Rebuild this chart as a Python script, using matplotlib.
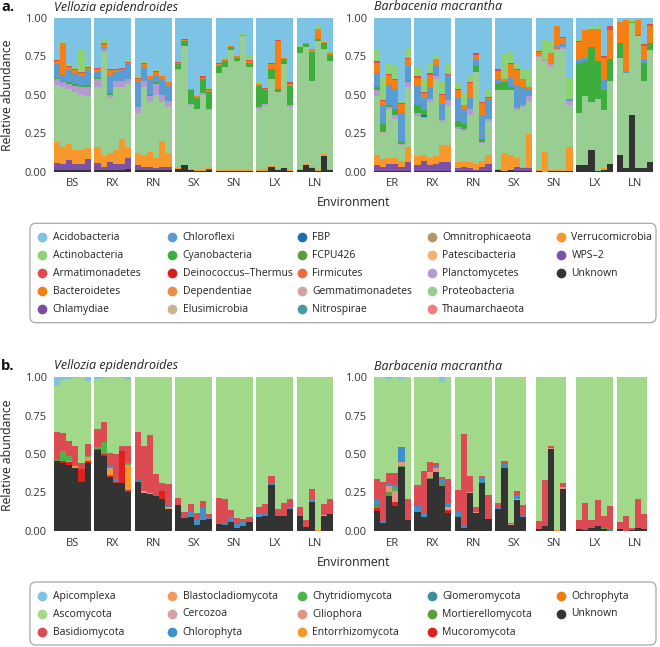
import numpy as np
import matplotlib.pyplot as plt
from matplotlib.patches import FancyBboxPatch

plt.rcParams['font.family'] = ['Open Sans', 'DejaVu Sans']

W, H = 660, 647

plants = ['Vellozia epidendroides', 'Barbacenia macrantha']
envs = [['BS', 'RX', 'RN', 'SX', 'SN', 'LX', 'LN'],
        ['ER', 'RX', 'RN', 'SX', 'SN', 'LX', 'LN']]

# ---------------- panel a : bacteria (6 samples per environment) ----------------
# order: Vellozia BS..LN, then Barbacenia ER..LN ; two environments per row
a_unknown = [.01, .01, .01, .01, .01, .01,   .01, .01, .01, .01, .01, .015,
             .01, .01, .01, .01, .01, .01,   .015, .04, .01, .005, .005, .01,
             .005, .005, .005, .005, .005, .005,   .005, .005, .03, .01, .02, .005,
             .01, .04, .025, .005, .10, .01,   .005, .005, .005, .005, .005, .005,
             .005, .005, .005, .005, .005, .005,   .005, .005, .005, .005, .005, .005,
             .01, .005, .01, .005, .005, .005,   .005, 0, .005, .005, .005, .005,
             .04, .04, .14, .005, .01, .05,   .11, .02, .37, .02, .02, .06]
a_wps2 = [.045, .04, .065, .04, .04, .07,   .045, .02, .05, .04, .04, .075,
          .03, .02, .02, .01, .02, .02,   0, 0, 0, 0, 0, .005,
          0, 0, 0, 0, 0, 0,   0, 0, 0, 0, 0, 0,
          0, 0, 0, 0, 0, 0,   .035, .025, .045, .045, .025, .055,
          .035, .065, .035, .045, .055, .055,   .015, .025, .015, .005, .025, .045,
          0, 0, 0, .025, .015, .015,   0, 0, 0, 0, 0, 0,
          0, 0, 0, 0, 0, 0,   0, 0, 0, 0, 0, 0]
a_verruco = [.135, .11, .105, .09, .09, .07,   .105, .07, .06, .09, .16, .06,
             .08, .08, .10, .07, .17, .09,   .005, .005, .005, .005, .005, .005,
             .005, .005, .005, .005, .005, .005,   .005, .01, .005, .005, .005, .005,
             .005, .01, .005, .005, .015, .005,   .07, .05, .04, .04, .04, .10,
             .06, .04, .05, .05, .11, .11,   .04, .03, .04, .04, .04, .06,
             .005, .115, .10, .06, .01, .225,   .005, .13, .005, .005, .005, .155,
             0, 0, 0, 0, .01, 0,   0, 0, 0, 0, 0, 0]
a_proteo = [.375, .39, .36, .38, .36, .34,   .39, .68, .36, .41, .34, .42,
            .26, .44, .32, .41, .25, .30,   .64, .775, .415, .40, .49, .38,
            .63, .67, .78, .71, .87, .67,   .40, .415, .565, .505, .675, .41,
            .755, .76, .56, .84, .685, .705,   .38, .17, .315, .255, .10, .39,
            .26, .24, .36, .50, .15, .26,   .22, .205, .31, .60, .115, .22,
            .515, .41, .42, .31, .39, .215,   .735, .59, .67, .78, .79, .27,
            .34, .45, .31, .465, .38, .54,   .63, .62, .595, .86, .57, .73]
a_plancto = [.035, .03, .03, .04, .05, .055,   .05, .02, .02, .04, .04, .03,
             .04, .04, .04, .07, .05, .04,   .01, 0, .01, 0, .01, .01,
             0, 0, 0, 0, 0, 0,   .01, .01, 0, 0, 0, .01,
             0, 0, 0, 0, 0, 0,   .04, 0, .015, .02, .01, .03,
             .02, .005, .02, .02, .015, .035,   .01, .01, .04, 0, .01, .015,
             0, 0, 0, .015, .01, .03,   .005, .01, .02, .005, .01, .03,
             0, 0, 0, 0, 0, 0,   0, 0, 0, 0, 0, 0]
a_gemmati = [0] * 43 + [.01] + [0] * 40
a_firmic = [0] * 69 + [.01] + [0] * 14
a_fcpu = [0] * 33 + [.02] + [0] * 5 + [.01] + [0] * 41 + [.01, 0, 0]
a_fbp = [0] * 49 + [.015] + [0] * 34
a_cyano = [.01, .01, .01, .01, .01, .01,   .01, 0, .01, 0, 0, 0,
           0, 0, .01, .01, 0, 0,   .03, .03, .09, .07, .09, .11,
           .05, .04, .02, .02, 0, .03,   .14, .09, .07, 0, .035, .13,
           .04, .02, .19, 0, .04, .04,   .02, .05, .01, .045, .01, .01,
           .05, .03, 0, 0, 0, 0,   .04, .035, 0, .04, .015, 0,
           .045, .05, .02, 0, 0, 0,   0, 0, 0, 0, 0, 0,
           .33, .23, .36, .25, .13, .145,   .10, 0, .01, 0, .12, .05]
a_chloro = [.09, .04, .08, .07, .06, .10,   .04, .01, .11, .06, .07, .10,
            .16, .09, .10, .05, .10, .10,   0, 0, 0, 0, 0, 0,
            0, 0, 0, 0, 0, 0,   0, 0, 0, 0, 0, 0,
            0, 0, 0, 0, 0, 0,   .09, .125, .135, .13, .19, .10,
            .13, .08, .08, .07, .105, .155,   .15, .10, .07, .04, .155, .125,
            .025, 0, .06, .15, .12, .045,   0, 0, 0, .01, .02, .015,
            .015, .02, 0, 0, .065, 0,   0, .015, 0, 0, .015, 0]
a_bactero = [.02, .205, .02, .02, .02, .015,   .02, .02, .04, .01, .01, .01,
             .02, .02, .02, .02, .02, .02,   .01, .005, .005, .01, .01, .01,
             .01, .01, .01, .01, .01, .01,   .01, .01, .03, .31, .005, .01,
             0, .005, .015, .07, .005, .01,   .07, .025, .065, .055, .06, .045,
             .05, .03, .08, .04, .06, .01,   .05, .02, .095, .03, .08, .01,
             .055, .02, .09, .095, .05, .015,   .03, 0, .07, .135, .04, 0,
             .12, .18, .12, .21, .145, .185,   .135, .335, 0, .10, .095, .11]
a_armatim = [.005, .005, .01, .005, .005, .005,   .005, .005, .005, .005, .005, .005,
             .01, .005, .005, .005, .005, .005,   .005, .005, .005, .005, .01, .01,
             .005, 0, 0, 0, 0, .005,   0, .005, .005, .005, 0, .01,
             0, 0, 0, 0, 0, .005,   .01, .005, .005, .005, .005, .005,
             .01, .005, .01, .005, .005, .005,   .005, .005, .005, .01, .005, .005,
             .01, .005, .005, .005, .005, 0,   .005, 0, .005, 0, .005, 0,
             .005, 0, 0, 0, .01, .025,   0, 0, 0, 0, .01, .01]
a_actino = [.01, .01, .01, .01, .145, .005,   .005, .02, .005, .005, .005, .015,
            .02, .015, .005, .015, .005, .005,   .005, .005, 0, 0, .01, .01,
            .005, .01, .005, .005, .01, .035,   .01, .005, .005, .005, .005, 0,
            .005, .005, .005, .02, .005, .005,   .08, .145, .075, .09, .005, .07,
            .06, .085, .06, .025, .075, .065,   .04, .075, .05, 0, 0, .045,
            .005, .17, .075, .045, .055, .115,   .005, .13, .075, .005, 0, .135,
            .005, .01, .01, .015, 0, .005,   .005, .005, .015, .005, 0, .005]
a_acido = [.265, .15, .30, .325, .21, .31,   .32, .145, .33, .33, .32, .27,
           .37, .28, .37, .33, .37, .41,   .28, .135, .46, .505, .37, .45,
           .29, .26, .175, .245, .10, .24,   .42, .45, .29, .14, .255, .42,
           .185, .16, .20, .05, .15, .22,   .20, .39, .29, .31, .55, .19,
           .32, .40, .30, .24, .42, .30,   .425, .49, .37, .23, .55, .47,
           .33, .225, .22, .29, .34, .335,   .21, .14, .15, .045, .125, .39,
           .145, .07, .06, .055, .25, .05,   .02, .005, .01, .005, .17, .035]

# ---------------- panel b : eukaryotes ----------------
b_unknown = [.455, .44, .43, .41, .32, .44,   .525, .49, .35, .31, .31, .255,
             .32, .25, .24, .225, .21, .145,   .17, .085, .09, .04, .07, .08,
             .045, .04, .06, .02, .03, .06,   .09, .10, .30, .10, .10, .14,
             .10, .025, .19, 0, .10, .11,   .13, .055, .23, .16, .415, .07,
             .125, .09, .335, .385, .295, .12,   .09, .02, .245, .115, .31, .075,
             .14, .41, .04, .20, .09, 0,   .01, .03, .535, 0, .275, 0,
             .015, .005, .02, .035, .01, .003,   .01, .003, .005, .02, .015, 0]
b_mucoro = [0, .015, .015, 0, .08, .015,   .01, .01, .01, .01, .21, .01,
            0, 0, 0, 0, .05, 0,   0, 0, 0, 0, 0, 0,
            0, 0, 0, 0, 0, 0,   0, 0, 0, 0, 0, 0,
            0, 0, 0, 0, 0, 0,   .02, 0, 0, .03, 0, 0,
            0, 0, 0, 0, 0, .015,   0, 0, 0, 0, 0, 0,
            0, 0, 0, 0, 0, 0,   0, 0, 0, 0, 0, 0,
            0, 0, 0, 0, 0, 0,   0, 0, 0, 0, 0, 0]
b_mortier = [.01, 0, 0, 0, 0, 0,   0, 0, 0, 0, 0, 0,
             0, 0, 0, 0, 0, 0,   0, 0, 0, 0, 0, 0,
             0, 0, 0, 0, 0, 0,   0, 0, 0, 0, 0, 0,
             0, 0, 0, 0, 0, 0,   .015, 0, .025, 0, .01, 0,
             0, 0, .01, 0, .01, 0,   0, 0, 0, 0, 0, 0,
             0, 0, 0, 0, 0, 0,   0, 0, 0, 0, 0, 0,
             0, 0, 0, 0, .01, 0,   0, 0, 0, 0, 0, 0]
b_glomero = [0, 0, 0, 0, 0, 0,   0, 0, .005, 0, 0, 0,
             .01, 0, 0, 0, 0, 0,   0, 0, 0, 0, 0, 0,
             0, 0, 0, 0, 0, 0,   0, 0, .01, 0, 0, 0,
             0, 0, 0, 0, 0, 0,   .01, 0, 0, 0, 0, 0,
             0, 0, 0, 0, 0, 0,   .01, 0, 0, 0, .01, 0,
             0, .01, 0, 0, 0, 0,   0, 0, 0, 0, 0, 0,
             0, 0, 0, 0, 0, .005,   0, 0, 0, 0, 0, 0]
b_entorr = [0, 0, .01, .015, 0, .015,   0, 0, .035, 0, 0, .165,
            0, 0, 0, 0, 0, .01,   0, 0, 0, 0, 0, 0,
            0, 0, 0, 0, 0, 0,   0, 0, 0, 0, 0, 0,
            0, 0, 0, .005, 0, 0,   0, 0, 0, 0, 0, 0,
            0, 0, 0, 0, 0, 0,   0, 0, 0, 0, 0, 0,
            0, 0, 0, 0, 0, 0,   0, 0, 0, .005, 0, 0,
            0, 0, 0, 0, 0, 0,   0, 0, 0, 0, 0, 0]
b_cilio = [0, 0, 0, 0, .005, .01,   0, 0, .01, 0, 0, 0,
           0, .01, .005, 0, 0, 0,   0, 0, 0, 0, 0, 0,
           0, 0, 0, 0, 0, 0,   0, 0, 0, 0, 0, 0,
           0, 0, 0, 0, .005, 0,   0, 0, .035, .07, .02, 0,
           0, 0, .035, .025, 0, .02,   0, 0, .01, .01, 0, 0,
           0, 0, .005, .01, 0, 0,   0, 0, .005, 0, .01, 0,
           0, 0, 0, 0, 0, 0,   0, 0, 0, 0, 0, 0]
b_chytrid = [0, .065, .035, 0, 0, .01,   .01, .08, 0, 0, 0, .01,
             0, 0, 0, 0, 0, 0,   0, 0, 0, 0, 0, 0,
             0, 0, 0, 0, 0, 0,   0, 0, 0, 0, 0, 0,
             0, 0, 0, 0, 0, 0,   0, 0, 0, .025, 0, 0,
             0, 0, 0, 0, 0, 0,   0, 0, 0, 0, 0, 0,
             0, 0, 0, 0, 0, 0,   0, 0, 0, 0, 0, 0,
             0, 0, 0, 0, 0, 0,   0, 0, 0, 0, 0, 0]
b_chloroph = [0, 0, 0, 0, 0, 0,   0, 0, .015, .015, 0, 0,
              0, 0, 0, 0, 0, .01,   0, 0, .04, .04, .085, .01,
              .01, .01, .03, .025, .03, 0,   .025, .01, 0, 0, 0, .015,
              0, 0, .02, 0, 0, 0,   .03, .01, .02, .015, .095, 0,
              .04, .03, 0, .01, .03, .025,   .03, .01, 0, 0, .025, 0,
              .01, .015, 0, .025, .01, 0,   0, 0, 0, 0, 0, 0,
              0, 0, 0, 0, 0, 0,   0, 0, 0, 0, 0, 0]
b_basidio = [.18, .115, .095, .125, .035, .075,   .12, .125, .08, .165, .035, .11,
             .31, .295, .38, .145, .05, .14,   .045, .04, .045, .04, .04, .02,
             .16, .16, .045, .04, .02, .03,   .04, .065, .045, .045, .085, .05,
             .055, .045, .065, 0, .07, .095,   .135, .25, .065, .075, .005, .135,
             .135, .27, .065, .02, .015, .155,   .135, .60, .10, .03, .01, .16,
             .035, .02, .01, .025, .07, 0,   .055, .30, .01, 0, .025, 0,
             .055, .175, .05, .165, .08, .152,   .05, .097, .015, .19, .095, 0]
b_ascomy = [.295, .345, .405, .445, .56, .41,   .325, .29, .495, .50, .44, .43,
            .36, .445, .375, .63, .69, .695,   .785, .875, .825, .88, .805, .89,
            .785, .79, .865, .915, .92, .91,   .845, .825, .645, .855, .815, .795,
            .845, .93, .725, .995, .825, .795,   .66, .685, .615, .625, .44, .795,
            .70, .61, .555, .56, .62, .665,   .735, .37, .645, .845, .645, .765,
            .815, .545, .945, .74, .83, 0,   .935, .67, .45, .995, .69, 0,
            .93, .82, .93, .80, .90, .84,   .94, .90, .98, .79, .89, 0]
b_apicom = [.06, .02, .01, .005, 0, .025,   .01, .005, 0, 0, .005, .02,
            0, 0, 0, 0, 0, 0,   0, 0, 0, 0, 0, 0,
            0, 0, 0, 0, 0, 0,   0, 0, 0, 0, 0, 0,
            0, 0, 0, 0, 0, 0,   0, 0, .01, 0, .015, 0,
            0, 0, 0, 0, .03, 0,   0, 0, 0, 0, 0, 0,
            0, 0, 0, 0, 0, 0,   0, 0, 0, 0, 0, 0,
            0, 0, 0, 0, 0, 0,   0, 0, 0, 0, 0, 0]

bact_names = ['Acidobacteria', 'Actinobacteria', 'Armatimonadetes', 'Bacteroidetes',
              'Chlamydiae', 'Chloroflexi', 'Cyanobacteria', 'Deinococcus\u2013Thermus',
              'Dependentiae', 'Elusimicrobia', 'FBP', 'FCPU426', 'Firmicutes',
              'Gemmatimonadetes', 'Nitrospirae', 'Omnitrophicaeota', 'Patescibacteria',
              'Planctomycetes', 'Proteobacteria', 'Thaumarchaeota', 'Verrucomicrobia',
              'WPS\u20132', 'Unknown']
bact_colors = ['#7DC3E3', '#8ED276', '#E6464D', '#F57F12', '#7A4E9C', '#5B9BD3',
               '#3DAE3E', '#D81B1B', '#EC8A3F', '#C9B591', '#1E6DB3', '#5A9D3B',
               '#ED6A3B', '#D7A0A9', '#4A9AA6', '#B69567', '#FBB16C', '#B49AD0',
               '#98CE91', '#F47C7F', '#F8982B', '#7C52A8', '#333333']
fung_names = ['Apicomplexa', 'Ascomycota', 'Basidiomycota', 'Blastocladiomycota',
              'Cercozoa', 'Chlorophyta', 'Chytridiomycota', 'Ciliophora',
              'Entorrhizomycota', 'Glomeromycota', 'Mortierellomycota', 'Mucoromycota',
              'Ochrophyta', 'Unknown']
fung_colors = ['#7DC3E3', '#A2D88A', '#DC4A52', '#F29A5F', '#D5A0A6', '#3F8FCB',
               '#4DB34B', '#E49283', '#F7962B', '#3E8DA0', '#5A9D3B', '#E0201C',
               '#F27B0C', '#333333']

# stacking bottom -> top
a_layers = [('Unknown', a_unknown), ('WPS\u20132', a_wps2), ('Verrucomicrobia', a_verruco),
            ('Proteobacteria', a_proteo), ('Planctomycetes', a_plancto),
            ('Gemmatimonadetes', a_gemmati), ('Firmicutes', a_firmic),
            ('FCPU426', a_fcpu), ('FBP', a_fbp), ('Cyanobacteria', a_cyano),
            ('Chloroflexi', a_chloro), ('Bacteroidetes', a_bactero),
            ('Armatimonadetes', a_armatim), ('Actinobacteria', a_actino),
            ('Acidobacteria', a_acido)]
b_layers = [('Unknown', b_unknown), ('Mucoromycota', b_mucoro),
            ('Mortierellomycota', b_mortier), ('Glomeromycota', b_glomero),
            ('Entorrhizomycota', b_entorr), ('Ciliophora', b_cilio),
            ('Chytridiomycota', b_chytrid), ('Chlorophyta', b_chloroph),
            ('Basidiomycota', b_basidio), ('Ascomycota', b_ascomy),
            ('Apicomplexa', b_apicom)]

fig = plt.figure(figsize=(W / 100, H / 100), dpi=100)


def px_axes(x0, y0, x1, y1):
    return fig.add_axes([x0 / W, 1 - y1 / H, (x1 - x0) / W, (y1 - y0) / H])


group_x = [54.0, 374.0]
pitch = 40.45
facet_w = 36.7


def draw_panel(top, bot, layers, cmap, env_y, lab_y, title_y, tag, tag_y):
    mat = np.array([v for _, v in layers], dtype=float)
    tot = mat.sum(axis=0)
    mat = np.divide(mat, tot, out=np.zeros_like(mat), where=tot > 0)
    for p in range(2):
        for i in range(7):
            x0 = group_x[p] + i * pitch
            ax = px_axes(x0, top, x0 + facet_w, bot)
            k = (p * 7 + i) * 6
            base = np.zeros(6)
            for j, (name, _) in enumerate(layers):
                h = mat[j, k:k + 6]
                ax.bar(np.arange(6), h, width=1.0, bottom=base, color=cmap[name],
                       linewidth=0)
                base += h
            ax.set_xlim(-0.5, 5.5)
            ax.set_ylim(0, 1)
            ax.set_xticks([])
            for s in ax.spines.values():
                s.set_visible(False)
            if i == 0:
                ax.set_yticks([0, 0.25, 0.5, 0.75, 1.0])
                ax.set_yticklabels(['0.00', '0.25', '0.50', '0.75', '1.00'],
                                   fontsize=8, color='#333333')
                ax.tick_params(axis='y', length=0, pad=5)
            else:
                ax.set_yticks([])
            fig.text((x0 + facet_w / 2) / W, 1 - env_y / H, envs[p][i],
                     ha='center', va='center', fontsize=8, color='#333333')
        fig.text(group_x[p] / W, 1 - title_y / H, plants[p], style='italic',
                 ha='left', va='center', fontsize=9, color='#222222')
    fig.text(354 / W, 1 - (env_y + 20) / H, 'Environment', ha='center', va='center',
             fontsize=8.8, color='#222222')
    fig.text(8 / W, 1 - lab_y / H, 'Relative abundance', rotation=90, ha='center',
             va='center', fontsize=8.8, color='#222222')
    fig.text(1 / W, 1 - tag_y / H, tag, fontweight='bold', ha='left', va='center',
             fontsize=10.5, color='#111111')


bc = dict(zip(bact_names, bact_colors))
fc = dict(zip(fung_names, fung_colors))
draw_panel(18, 171.5, a_layers, bc, 183, 95, 7, 'a.', 7)
draw_panel(377, 531, b_layers, fc, 543, 455, 366, 'b.', 366)

# legends drawn on a transparent overlay in pixel units
ov = fig.add_axes([0, 0, 1, 1], facecolor='none')
ov.set_xlim(0, W)
ov.set_ylim(H, 0)
ov.axis('off')

col_x = [42.3, 172.3, 302, 431.5, 561]


def draw_legend(names, colors, nrow, y_top, y_bot, first_row, step):
    ov.add_patch(FancyBboxPatch((30, y_top), 626, y_bot - y_top,
                                boxstyle='round,pad=0,rounding_size=6',
                                fc='white', ec='#A8A8A8', lw=0.9))
    for n, (name, col) in enumerate(zip(names, colors)):
        c, r = divmod(n, nrow)
        y = first_row + r * step
        ov.plot(col_x[c], y, 'o', ms=7, color=col, mec='none')
        ov.text(col_x[c] + 10.4, y, name, ha='left', va='center', fontsize=7.5,
                color='#222222')


draw_legend(bact_names, bact_colors, 5, 223.3, 322.7, 237.3, 18)
draw_legend(fung_names, fung_colors, 3, 582, 645, 596, 18)

fig.savefig('out.png', dpi=100)
